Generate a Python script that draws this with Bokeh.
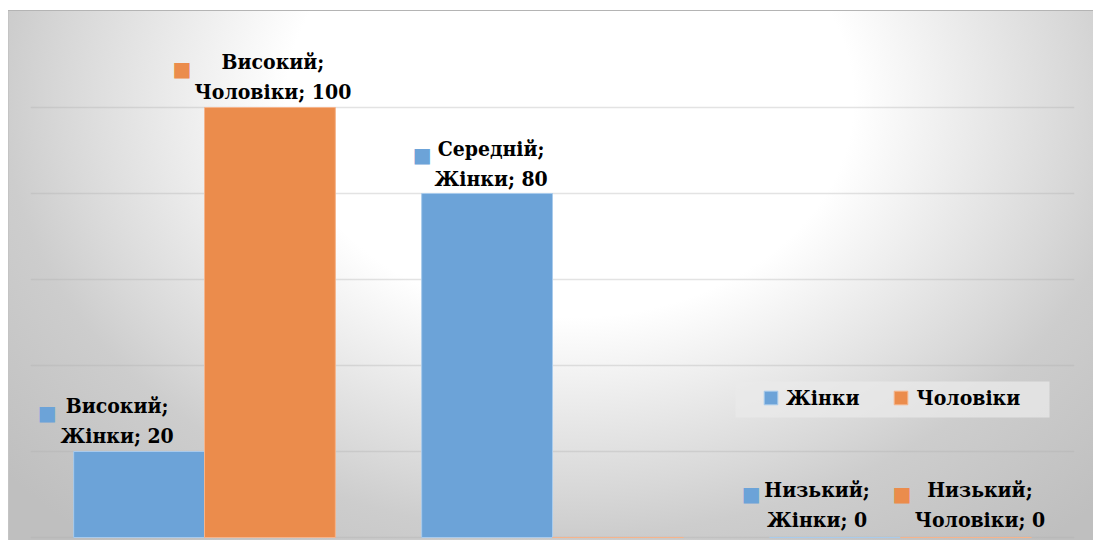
from bokeh.plotting import figure
from bokeh.models import (FactorRange, Range1d, ColumnDataSource, Legend, LegendItem,
                          BoxAnnotation, FixedTicker)
from bokeh.transform import dodge
from bokeh.core.properties import value
from bokeh.embed import file_html
from bokeh.resources import INLINE

# ---- data ----
categories = ["Високий", "Середній", "Низький"]
series_names = ["Жінки", "Чоловіки"]
women = [20, 80, 0]
men = [100, 0, 0]
grid_ticks = [0, 20, 40, 60, 80, 100, 120]
# which bars carry a data label (Середній / Чоловіки has none)
labelled = {"Жінки": ["Високий", "Середній", "Низький"],
            "Чоловіки": ["Високий", "Низький"]}

# ---- styles ----
fill = {"Жінки": "#6ca3d8", "Чоловіки": "#eb8c4c"}
edge = {"Жінки": "#a9cbec", "Чоловіки": "#f5b58c"}
shift = {"Жінки": -0.188, "Чоловіки": 0.188}
BAR_W = 0.376
FONT = "DejaVu Serif Condensed"
FSIZE = "21px"
# per-label pixel nudges (text centre dx, text dy, marker dx, marker dy)
nudge = {
    ("Жінки", "Високий"): (-22, -31, -92, -38),
    ("Жінки", "Середній"): (4, -30, -65, -38),
    ("Жінки", "Низький"): (-18, -33, -84, -43),
    ("Чоловіки", "Високий"): (3, -31, -88, -38),
    ("Чоловіки", "Низький"): (14, -33, -64, -43),
}

values = {"Жінки": women, "Чоловіки": men}

bg = ("radial-gradient(ellipse 746px 572px at 562px 90px, "
      "#ffffff 0%, #ffffff 38%, #d8d8d8 68%, #cdcdcd 76%, #bfbfbf 100%)")

p = figure(width=1085, height=530, output_backend="svg", toolbar_location=None,
           x_range=FactorRange(*categories), y_range=Range1d(-0.7, 120),
           min_border_left=22, min_border_right=19, min_border_top=11, min_border_bottom=0,
           styles={"background": bg,
                   "box-shadow": "inset 0 1px 0 #b4b4b4, inset 1px 0 0 #c4c4c4"})
p.margin = (10, 0, 0, 8)
p.background_fill_alpha = 0
p.border_fill_alpha = 0
p.outline_line_color = None
p.xaxis.visible = False
p.yaxis.visible = False
p.xgrid.visible = False
p.ygrid.ticker = FixedTicker(ticks=grid_ticks)
p.ygrid.grid_line_color = "#b0b0b0"
p.ygrid.grid_line_alpha = 0.35
p.ygrid.grid_line_width = 1.5

renderers = {}
for s in series_names:
    src = ColumnDataSource(dict(cat=categories, val=values[s]))
    r = p.vbar(x=dodge("cat", shift[s], range=p.x_range), top="val", width=BAR_W,
               source=src, fill_color=fill[s], line_color=edge[s], line_width=1)
    renderers[s] = r

    cats = labelled[s]
    vals = [values[s][categories.index(c)] for c in cats]
    texts = [f"{c};\n{s}; {v}" for c, v in zip(cats, vals)]
    nd = [nudge[(s, c)] for c in cats]
    lsrc = ColumnDataSource(dict(cat=cats, val=vals, text=texts,
                                 tdx=[n[0] for n in nd], tdy=[n[1] for n in nd],
                                 mdx=[n[2] for n in nd], mdy=[n[3] for n in nd]))
    p.text(x=dodge("cat", shift[s], range=p.x_range), y="val", text="text", source=lsrc,
           x_offset="tdx", y_offset="tdy", text_align="center", text_baseline="middle",
           text_font=value(FONT), text_font_style="bold", text_font_size=FSIZE,
           text_color="black", text_line_height=1.2)
    p.text(x=dodge("cat", shift[s], range=p.x_range), y="val", text=value("■"), source=lsrc,
           x_offset="mdx", y_offset="mdy", text_align="center", text_baseline="middle",
           text_font=value("DejaVu Sans"), text_font_size="20px", text_color=fill[s])

box = BoxAnnotation(left=727, right=1041, top=371, bottom=407,
                    left_units="canvas", right_units="canvas",
                    top_units="canvas", bottom_units="canvas",
                    fill_color="#eaeaea", fill_alpha=0.75, line_color=None)
p.add_layout(box)

legend = Legend(items=[LegendItem(label=s, renderers=[renderers[s]]) for s in series_names],
                orientation="horizontal", location=(724, 122),
                glyph_width=17, glyph_height=17, label_standoff=7, spacing=33, padding=8,
                label_text_font=FONT, label_text_font_style="bold", label_text_font_size=FSIZE,
                label_text_color="black",
                background_fill_alpha=0, border_line_alpha=0)
p.add_layout(legend)

open("out.html", "w").write(file_html(p, INLINE))
